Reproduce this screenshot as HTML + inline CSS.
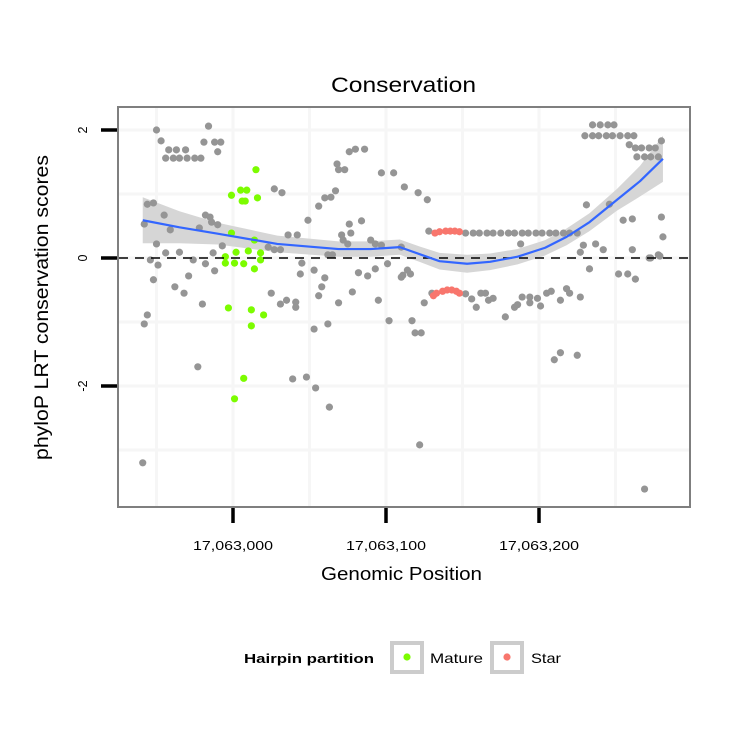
<!DOCTYPE html>
<html><head><meta charset="utf-8"><style>
html,body{margin:0;padding:0;background:#fff;}
svg{display:block;font-family:"Liberation Sans",sans-serif;}
</style></head><body>
<svg id="chart" width="750" height="750" viewBox="0 0 750 750">
<rect x="0" y="0" width="750" height="750" fill="#fff"/>
<text x="331" y="92" font-size="21" textLength="145" lengthAdjust="spacingAndGlyphs">Conservation</text>
<g id="grid"></g>
<g id="band"></g>
<g id="pts"></g>
<g id="line"></g>
<rect x="118" y="107" width="572" height="400" fill="none" stroke="#7f7f7f" stroke-width="2"/>
<g id="axes"></g>
<text x="321" y="580" font-size="18" textLength="161" lengthAdjust="spacingAndGlyphs">Genomic Position</text>
<text transform="translate(48,460) rotate(-90)" font-size="19" textLength="305" lengthAdjust="spacingAndGlyphs">phyloP LRT conservation scores</text>
<g>
<text x="244" y="663" font-size="13" font-weight="bold" textLength="130" lengthAdjust="spacingAndGlyphs">Hairpin partition</text>
<rect x="392" y="643" width="30" height="29" fill="#fff" stroke="#cccccc" stroke-width="4"/>
<circle cx="407" cy="657" r="3.6" fill="#7CFC00"/>
<text x="430" y="663" font-size="14" textLength="53" lengthAdjust="spacingAndGlyphs">Mature</text>
<rect x="492" y="643" width="30" height="29" fill="#fff" stroke="#cccccc" stroke-width="4"/>
<circle cx="507" cy="657" r="3.6" fill="#F8766D"/>
<text x="531" y="663" font-size="14" textLength="30" lengthAdjust="spacingAndGlyphs">Star</text>
</g>
</svg>
<script>
const grayPos=[-50,-47,-42,-37,-31,-44,-39,-35,-30,-25,-21,-16,-19,-12,-8,-10,27,32,-56,-52,-45,-18,-15,-14,-10,-58,-41,-22,-50,-44,-35,-13,-7,23,27,31,36,42,62,65,71,72,75,77,76,84,90,93,97,110,49,56,60,64,67,68,69,73,76,80,86,97,105,112,
121,127,235,240,245,249,230,235,239,244,248,253,258,262,259,263,267,272,276,280,264,269,273,278,231,246,255,261,280,281,229,237,242,261,272,278,227,128,
152,157,161,166,170,175,180,184,189,193,198,202,207,211,216,220,225,188,116,111,114,
-54,-49,-26,-18,-12,-29,-52,-38,-32,-20,-56,-58,-23,-59,25,31,35,41,41,45,44,53,60,58,56,69,78,82,88,93,101,110,95,53,62,102,117,119,123,39,48,54,63,122,125,130,152,156,159,162,165,167,170,178,184,186,189,194,194,199,201,205,208,214,218,220,227,210,214,225,233,252,258,263,269,279,273];
const grayVal=[2.00,1.83,1.69,1.69,1.69,1.56,1.56,1.56,1.56,1.56,1.56,2.06,1.81,1.81,1.81,1.66,1.08,1.02,0.84,0.86,0.67,0.67,0.64,0.56,0.52,0.53,0.44,0.47,0.22,0.08,0.09,0.08,0.19,0.17,0.13,0.13,0.36,0.36,0.05,0.05,0.36,0.28,0.22,0.39,0.53,0.58,0.28,0.22,0.20,0.17,0.59,0.81,0.94,0.95,1.05,1.47,1.38,1.38,1.66,1.70,1.70,1.33,1.33,1.11,
1.02,0.91,2.08,2.08,2.08,2.08,1.91,1.91,1.91,1.91,1.91,1.91,1.91,1.91,1.77,1.72,1.72,1.72,1.72,1.83,1.58,1.58,1.58,1.58,0.83,0.84,0.59,0.61,0.64,0.33,0.20,0.22,0.13,0.13,0.00,0.05,0.09,0.42,
0.39,0.39,0.39,0.39,0.39,0.39,0.39,0.39,0.39,0.39,0.39,0.39,0.39,0.39,0.39,0.39,0.39,0.22,-0.25,-0.27,-0.19,
-0.03,-0.11,-0.03,-0.09,-0.20,-0.28,-0.34,-0.45,-0.55,-0.72,-0.89,-1.03,-1.70,-3.20,-0.55,-0.72,-0.66,-0.69,-0.77,-0.08,-0.25,-0.19,-0.31,-0.45,-0.59,-0.70,-0.53,-0.23,-0.28,-0.17,-0.09,-0.30,-0.66,-1.11,-1.03,-0.98,-0.98,-1.17,-1.17,-1.89,-1.86,-2.03,-2.33,-2.92,-0.70,-0.55,-0.56,-0.64,-0.77,-0.55,-0.55,-0.66,-0.63,-0.92,-0.77,-0.73,-0.61,-0.61,-0.70,-0.63,-0.75,-0.55,-0.52,-0.66,-0.48,-0.55,-0.61,-1.59,-1.48,-1.52,-0.17,-0.25,-0.25,-0.33,-3.61,0.03,0.00];
const maturePos=[15,-1,5,9,6,8,16,-1,14,2,10,18,-5,-5,1,7,18,14,-3,12,20,12,7,1];
const matureVal=[1.38,0.98,1.06,1.06,0.89,0.89,0.94,0.39,0.28,0.09,0.11,0.08,0.02,-0.08,-0.08,-0.09,-0.03,-0.17,-0.78,-0.81,-0.89,-1.06,-1.88,-2.20];
const starPos=[132,135,139,142,145,148,131,133,137,140,143,146,148];
const starVal=[0.39,0.41,0.42,0.42,0.42,0.41,-0.59,-0.55,-0.52,-0.50,-0.50,-0.52,-0.55];
const smoothPos=[-59,-35,-10,29,69,90,109,122,135,153,168,186,204,218,233,251,266,281];
const smoothVal=[0.59,0.48,0.38,0.22,0.14,0.14,0.17,0.06,-0.05,-0.09,-0.06,0.02,0.16,0.33,0.56,0.91,1.20,1.55];
const smoothSE=[0.36,0.25,0.17,0.13,0.12,0.12,0.12,0.12,0.13,0.14,0.13,0.12,0.12,0.13,0.14,0.17,0.24,0.36];
const xTicks=[0,100,200];
const xTickLabels=["17,063,000","17,063,100","17,063,200"];
const xMinor=[-50,50,150,250];
const yTicks=[-2,0,2];
const yTickLabels=["-2","0","2"];
const yMinor=[-3,-1,1];

const NS="http://www.w3.org/2000/svg";
const X=v=>233+1.53*v;
const Y=v=>258-64*v;
function mk(tag,attrs,parent){const e=document.createElementNS(NS,tag);for(const k in attrs)e.setAttribute(k,attrs[k]);parent.appendChild(e);return e;}
const grid=document.getElementById('grid');
xMinor.concat(xTicks).forEach(v=>{const l=mk('line',{x1:X(v),x2:X(v),y1:108,y2:506,stroke:'#f6f6f6','stroke-width':3},grid);

});
yMinor.concat(yTicks).forEach(v=>{const l=mk('line',{x1:119,x2:689,y1:Y(v),y2:Y(v),stroke:'#f6f6f6','stroke-width':3},grid);

});
const band=document.getElementById('band');
let d='';
smoothPos.forEach((p,i)=>{d+=(i?'L':'M')+X(p)+','+Y(smoothVal[i]+smoothSE[i]);});
for(let i=smoothPos.length-1;i>=0;i--){d+='L'+X(smoothPos[i])+','+Y(smoothVal[i]-smoothSE[i]);}
const bp=mk('path',{d:d+'Z',fill:'#d6d6d6'},band);


const pts=document.getElementById('pts');
function dots(ps,vs,col,name){ps.forEach((p,i)=>{const c=mk('circle',{cx:X(p),cy:Y(vs[i]),r:3.6,fill:col},pts);

});}
dots(grayPos,grayVal,'#959595','point-other');
dots(maturePos,matureVal,'#7CFC00','point-mature');
dots(starPos,starVal,'#F8766D','point-star');
const zl=mk('line',{x1:119,x2:689,y1:Y(0),y2:Y(0),stroke:'#000','stroke-width':1.6,'stroke-dasharray':'9,7'},pts);


const line=document.getElementById('line');
let ld='';smoothPos.forEach((p,i)=>{ld+=(i?'L':'M')+X(p)+','+Y(smoothVal[i]);});
const lp=mk('path',{d:ld,fill:'none',stroke:'#3366FF','stroke-width':2.2,'stroke-linejoin':'round'},line);


const axes=document.getElementById('axes');
xTicks.forEach((v,i)=>{const t=mk('line',{x1:X(v),x2:X(v),y1:508,y2:523,stroke:'#000','stroke-width':3.5},axes);


const tx=mk('text',{x:X(v)-40,y:550,'font-size':12.5,textLength:80,lengthAdjust:'spacingAndGlyphs'},axes);tx.textContent=xTickLabels[i];

});
yTicks.forEach((v,i)=>{const t=mk('line',{x1:101,x2:117,y1:Y(v),y2:Y(v),stroke:'#000','stroke-width':3.5},axes);


const tx=mk('text',{transform:`translate(87,${Y(v)}) rotate(-90)`,'font-size':12.5,'text-anchor':'middle'},axes);tx.textContent=yTickLabels[i];

});
</script>
</body></html>
